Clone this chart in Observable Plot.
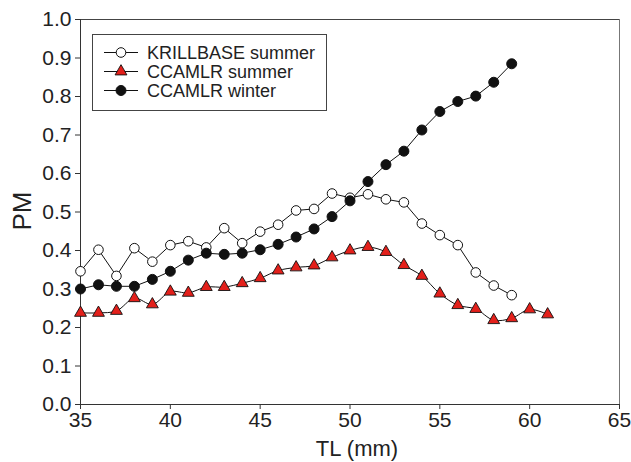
<!DOCTYPE html>
<html>
<head>
<meta charset="utf-8">
<script src="https://cdn.jsdelivr.net/npm/d3@7"></script>
<script src="https://cdn.jsdelivr.net/npm/@observablehq/plot@0.6"></script>
<style>
  html, body { margin: 0; padding: 0; background: #fff; }
  #chart svg { display: block; }
</style>
</head>
<body>
<div id="chart"></div>
<script>
const krillTL = [35,36,37,38,39,40,41,42,43,44,45,46,47,48,49,50,51,52,53,54,55,56,57,58,59];
const krillPM = [0.346,0.402,0.334,0.406,0.371,0.414,0.424,0.408,0.458,0.419,0.449,0.467,0.504,0.508,0.548,0.537,0.546,0.533,0.525,0.470,0.440,0.414,0.343,0.309,0.284];

const ccSumTL = [35,36,37,38,39,40,41,42,43,44,45,46,47,48,49,50,51,52,53,54,55,56,57,58,59,60,61];
const ccSumPM = [0.238,0.238,0.243,0.276,0.260,0.293,0.290,0.305,0.305,0.315,0.328,0.348,0.356,0.361,0.382,0.400,0.409,0.396,0.362,0.334,0.288,0.258,0.248,0.219,0.224,0.247,0.234];

const ccWinTL = [35,36,37,38,39,40,41,42,43,44,45,46,47,48,49,50,51,52,53,54,55,56,57,58,59];
const ccWinPM = [0.300,0.311,0.307,0.307,0.325,0.346,0.375,0.393,0.390,0.393,0.402,0.416,0.435,0.456,0.488,0.529,0.579,0.623,0.658,0.713,0.761,0.787,0.801,0.837,0.885];

const seriesNames = ["KRILLBASE summer", "CCAMLR summer", "CCAMLR winter"];
const xTicks = [35,40,45,50,55,60,65];
const yTicks = [0,0.1,0.2,0.3,0.4,0.5,0.6,0.7,0.8,0.9,1.0];
const xLabel = "TL (mm)";
const yLabel = "PM";

const toRows = (xs, ys, s) => xs.map((x, i) => ({tl: x, pm: ys[i], series: s}));
const krill = toRows(krillTL, krillPM, seriesNames[0]);
const ccSum = toRows(ccSumTL, ccSumPM, seriesNames[1]);
const ccWin = toRows(ccWinTL, ccWinPM, seriesNames[2]);

const FONT = "'Liberation Sans', Arial, Helvetica, sans-serif";
const RED = "#e3201b";
const TRI_R = 4.4;

const chart = Plot.plot({
  width: 631,
  height: 462,
  marginLeft: 80,
  marginRight: 12,
  marginTop: 19,
  marginBottom: 58,
  x: {domain: [35, 65]},
  y: {domain: [0, 1]},
  style: {fontFamily: FONT, fontSize: "21px", color: "#222", background: "#fff"},
  marks: [
    Plot.ruleY([1], {stroke: "#444", strokeWidth: 1}),
    Plot.ruleX([65], {stroke: "#777", strokeWidth: 1}),
    Plot.ruleX([35], {stroke: "#333", strokeWidth: 1}),
    Plot.ruleY([0], {stroke: "#333", strokeWidth: 1}),
    Plot.axisX({ticks: xTicks, tickSize: 5, tickPadding: 3, label: null, stroke: "#333", fontSize: 21}),
    Plot.axisY({ticks: yTicks, tickFormat: d3.format(".1f"), tickSize: 5, tickPadding: 4, label: null, stroke: "#333", fontSize: 21}),
    Plot.line(krill, {x: "tl", y: "pm", stroke: "#111", strokeWidth: 1}),
    Plot.line(ccSum, {x: "tl", y: "pm", stroke: "#111", strokeWidth: 1, curve: "catmull-rom"}),
    Plot.line(ccWin, {x: "tl", y: "pm", stroke: "#111", strokeWidth: 1}),
    Plot.dot(krill, {x: "tl", y: "pm", r: 4.8, fill: "#fff", stroke: "#111", strokeWidth: 1}),
    Plot.dot(ccSum, {x: "tl", y: "pm", r: TRI_R, symbol: "triangle", fill: RED, stroke: "#111", strokeWidth: 0.9}),
    Plot.dot(ccWin, {x: "tl", y: "pm", r: 5, fill: "#111", stroke: "#111", strokeWidth: 1})
  ]
});

document.getElementById("chart").appendChild(chart);

const svg = d3.select(chart);
svg.selectAll("text").attr("font-size", null).style("font-size", "21px");

svg.append("text")
  .attr("x", 357).attr("y", 456)
  .attr("text-anchor", "middle")
  .style("font-family", FONT).style("font-size", "22px").attr("fill", "#222")
  .text(xLabel);
svg.append("text")
  .attr("transform", "translate(31,211) rotate(-90)")
  .attr("text-anchor", "middle")
  .style("font-family", FONT).style("font-size", "26px").attr("fill", "#222")
  .text(yLabel);

const lg = svg.append("g");
lg.append("rect")
  .attr("x", 92.5).attr("y", 34.5).attr("width", 234).attr("height", 76)
  .attr("fill", "#fff").attr("stroke", "#444").attr("stroke-width", 1);
const rowY = [52.5, 71.5, 90.5];
const sym = [
  g => g.append("circle").attr("r", 4.8).attr("fill", "#fff").attr("stroke", "#111"),
  g => g.append("path").attr("d", d3.symbol(d3.symbolTriangle, Math.PI * TRI_R * TRI_R)()).attr("fill", RED).attr("stroke", "#111").attr("stroke-width", 0.9),
  g => g.append("circle").attr("r", 5).attr("fill", "#111").attr("stroke", "#111")
];
seriesNames.forEach((name, i) => {
  const g = lg.append("g").attr("transform", `translate(0,${rowY[i]})`);
  g.append("line").attr("x1", 104).attr("x2", 138).attr("y1", 0).attr("y2", 0).attr("stroke", "#111");
  sym[i](g.append("g").attr("transform", "translate(121,0)"));
  g.append("text").attr("x", 147).attr("y", 0).attr("dy", "0.36em")
    .attr("text-anchor", "start")
    .style("font-family", FONT).style("font-size", "18px").attr("fill", "#222")
    .text(name);
});
</script>
</body>
</html>
